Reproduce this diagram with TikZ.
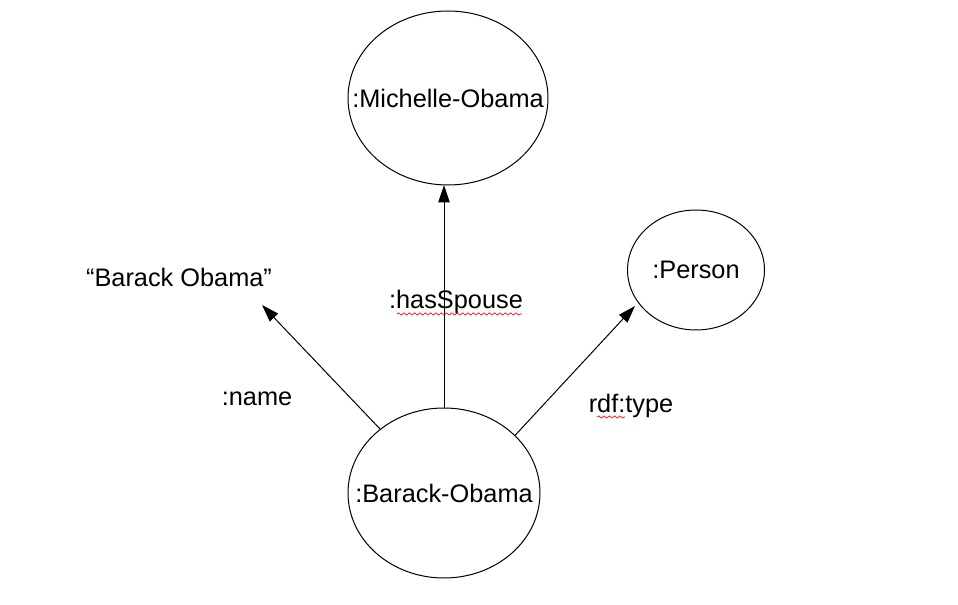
\documentclass[tikz,border=0pt]{standalone}
\usepackage{fontspec}
\setmainfont{Liberation Sans}
\usepackage{tikz}
\usetikzlibrary{arrows.meta, shapes.geometric, decorations.pathmorphing}

\begin{document}
\begin{tikzpicture}[x=0.75pt, y=-0.75pt, line join=round, line cap=round,
  font=\fontsize{19}{22}\selectfont,
  res/.style={draw, ellipse, line width=0.75pt, inner sep=0pt, outer sep=0pt},
  rel/.style={-{Triangle[length=13pt, width=8.5pt]}, line width=0.75pt},
  squiggle/.style={red, line width=0.5pt, decorate, decoration={snake, segment length=4pt, amplitude=0.9pt}}]
\useasboundingbox (0,0) rectangle (958,605);
\node[res, minimum width=150pt, minimum height=130.5pt] (michelle) at (448,98) {\makebox[0pt]{:Michelle-Obama}};
\node[res, minimum width=102.75pt, minimum height=90pt] (person) at (696,270) {\makebox[0pt]{:Person}};
\node[res, minimum width=144pt, minimum height=127.5pt] (barack) at (444,493) {\makebox[0pt]{:Barack-Obama}};
\node (literal) at (179,277) {``Barack Obama''};
\coordinate (nametip) at (262,305);
\coordinate (typetip) at (635,306);
\draw[rel] (barack.north) -- (barack.north |- michelle.south);
\draw[rel] (barack.135.9) -- (nametip);
\draw[rel] (barack.39.8) -- (typetip);
\node (hasspouse) at (456,302) {:hasSpouse};
\node (name) at (257,399) {:name};
\node (type) at (631,406) {rdf:type};
\draw[squiggle] (397,314) -- (522,314);
\draw[squiggle] (597,417) -- (625,417);
\end{tikzpicture}
\end{document}
